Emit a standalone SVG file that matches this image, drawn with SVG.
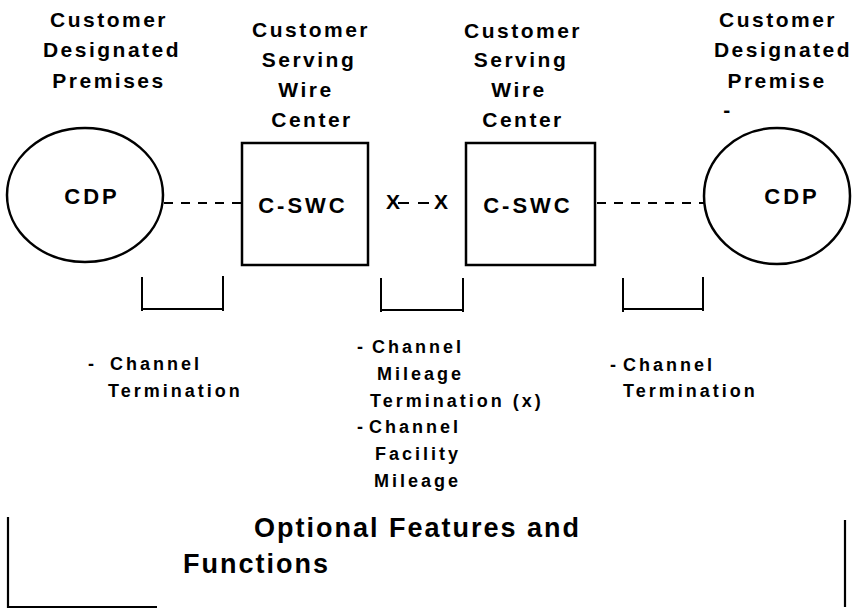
<svg xmlns="http://www.w3.org/2000/svg" width="857" height="609" viewBox="0 0 857 609">
<style>
text{font-family:"Liberation Sans",Arial,sans-serif;font-weight:bold;fill:#000}
.hd{font-size:21px;letter-spacing:2.5px;text-anchor:middle}
.nd{font-size:22px;letter-spacing:3px;text-anchor:middle}
.lb{font-size:18px;letter-spacing:3px}
.big{font-size:27px;letter-spacing:2px}
.shape{fill:#fff;stroke:#000;stroke-width:2.5}
.dash{stroke:#000;stroke-width:1.8;stroke-dasharray:9 8;fill:none}
.br{stroke:#000;stroke-width:2;fill:none}
</style>
<rect width="857" height="609" fill="#fff"/>

<g id="title-cdp-left">
<text class="hd" x="109" y="27">Customer</text>
<text class="hd" x="112" y="57">Designated</text>
<text class="hd" x="109" y="88">Premises</text>
</g>
<g id="title-cswc-left">
<text class="hd" x="311" y="37">Customer</text>
<text class="hd" x="309" y="67">Serving</text>
<text class="hd" x="306" y="97">Wire</text>
<text class="hd" x="312" y="127">Center</text>
</g>
<g id="title-cswc-right">
<text class="hd" x="523" y="38">Customer</text>
<text class="hd" x="521" y="67">Serving</text>
<text class="hd" x="519" y="97">Wire</text>
<text class="hd" x="523" y="127">Center</text>
</g>
<g id="title-cdp-right">
<text class="hd" x="778" y="27">Customer</text>
<text class="hd" x="783" y="57">Designated</text>
<text class="hd" x="777" y="88">Premise</text>
<text class="hd" x="728" y="117">-</text>
</g>

<g id="cdp-left">
<ellipse class="shape" cx="85" cy="195" rx="78" ry="67"/>
<text class="nd" x="92" y="204">CDP</text>
</g>
<g id="cswc-left">
<rect class="shape" x="242" y="143" width="126" height="122"/>
<text class="nd" x="303" y="213">C-SWC</text>
</g>
<g id="cswc-right">
<rect class="shape" x="466" y="143" width="129" height="122"/>
<text class="nd" x="528" y="213">C-SWC</text>
</g>
<g id="cdp-right">
<ellipse class="shape" cx="777" cy="196" rx="73" ry="68"/>
<text class="nd" x="792" y="204">CDP</text>
</g>

<g id="connectors">
<line class="dash" x1="164" y1="203" x2="241" y2="203"/>
<line class="dash" x1="597" y1="203" x2="704" y2="203"/>
<line class="dash" x1="398" y1="203" x2="436" y2="203" style="stroke-dasharray:11 9"/>
<text x="393" y="209" style="font-size:21px;text-anchor:middle">X</text>
<text x="441" y="209" style="font-size:21px;text-anchor:middle">X</text>
</g>

<g id="bracket-left">
<path class="br" d="M142 277V311M142 309H223M223 276V311"/>
</g>
<g id="bracket-mid">
<path class="br" d="M381 278V312M381 310H463M463 278V312"/>
</g>
<g id="bracket-right">
<path class="br" d="M623 278V312M623 309H703M703 277V311"/>
</g>

<g id="label-left">
<text class="lb" x="88" y="370">-<tspan x="110">Channel</tspan></text>
<text class="lb" x="108" y="397">Termination</text>
</g>
<g id="label-mid">
<text class="lb" x="357" y="353">-<tspan x="372">Channel</tspan></text>
<text class="lb" x="377" y="380">Mileage</text>
<text class="lb" x="370" y="407">Termination (x)</text>
<text class="lb" x="357" y="433">-<tspan x="369">Channel</tspan></text>
<text class="lb" x="375" y="460">Facility</text>
<text class="lb" x="374" y="487">Mileage</text>
</g>
<g id="label-right">
<text class="lb" x="610" y="371">-<tspan x="623">Channel</tspan></text>
<text class="lb" x="623" y="397">Termination</text>
</g>

<g id="optional-box">
<path class="br" d="M8 517V607H157M845 520V607" style="stroke-width:2.2"/>
<text class="big" x="254" y="537">Optional Features and</text>
<text class="big" x="183" y="573">Functions</text>
</g>
</svg>
